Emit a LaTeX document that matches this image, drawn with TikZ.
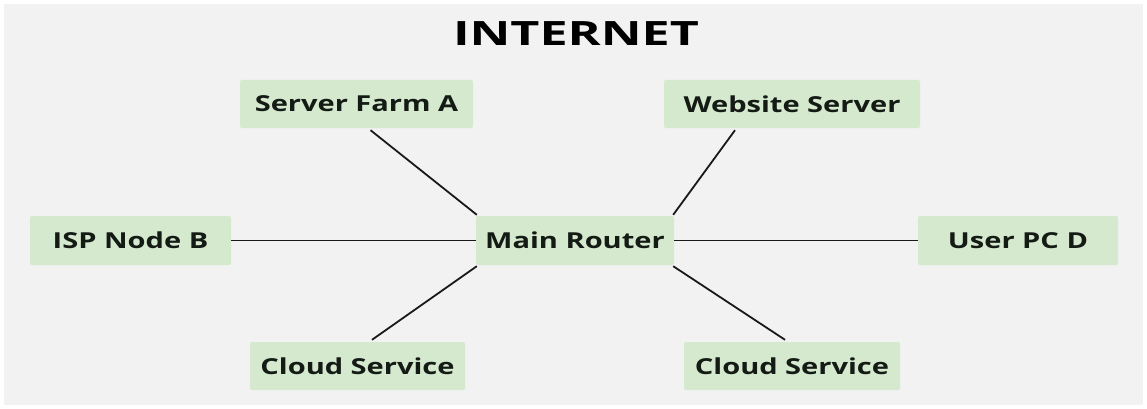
\documentclass[tikz,border=0pt]{standalone}
\usepackage{fontspec}
\setmainfont{Open Sans}[FakeStretch=1.32]
\newfontfamily\titlefont{Open Sans}[FakeStretch=1.5]
\usetikzlibrary{calc}
\definecolor{bggray}{HTML}{F2F2F2}
\definecolor{boxgreen}{HTML}{D5E9CF}
\definecolor{txt}{HTML}{141A14}
\tikzset{
  netbox/.style={fill=boxgreen, rounded corners=2pt, inner sep=0pt, text=txt,
    font=\fontsize{22}{26}\selectfont\bfseries},
  link/.style={draw=black!90, line width=1.8pt}
}
\begin{document}
\begin{tikzpicture}[x=1pt,y=-1pt]
\useasboundingbox (0,0) rectangle (1147,409);
\fill[white] (0,0) rectangle (1147,409);
\fill[bggray] (4,4) rectangle (1143,405);
\node[font=\titlefont\fontsize{33.5}{40}\selectfont\bfseries, text=black] (title) at (576,34) {INTERNET};
\node[netbox, minimum width=233pt, minimum height=48pt] (sfa) at (356.5,104) {Server Farm A};
\node[netbox, minimum width=256pt, minimum height=48pt] (web) at (792,104) {Website Server};
\node[netbox, minimum width=201pt, minimum height=49pt] (isp) at (130.5,240.5) {ISP Node B};
\node[netbox, minimum width=198pt, minimum height=49pt] (router) at (575,240.5) {Main Router};
\node[netbox, minimum width=200pt, minimum height=49pt] (user) at (1018,240.5) {User PC D};
\node[netbox, minimum width=215pt, minimum height=48pt] (cl) at (357.5,366) {Cloud Service};
\node[netbox, minimum width=216pt, minimum height=48pt] (cr) at (792,366) {Cloud Service};
\draw[link] ($(sfa.south)+(14,2)$) -- ($(router.north west)+(1,-1)$);
\draw[link] ($(web.south)+(-57,2)$) -- ($(router.north east)+(-1,-1)$);
\draw[link] ($(cl.north)+(14.5,-2)$) -- ($(router.south west)+(1,1)$);
\draw[link] ($(cr.north)+(-7,-2)$) -- ($(router.south east)+(-1,1)$);
\draw[link] (isp.east) -- (router.west);
\draw[link] (router.east) -- (user.west);
\end{tikzpicture}
\end{document}
